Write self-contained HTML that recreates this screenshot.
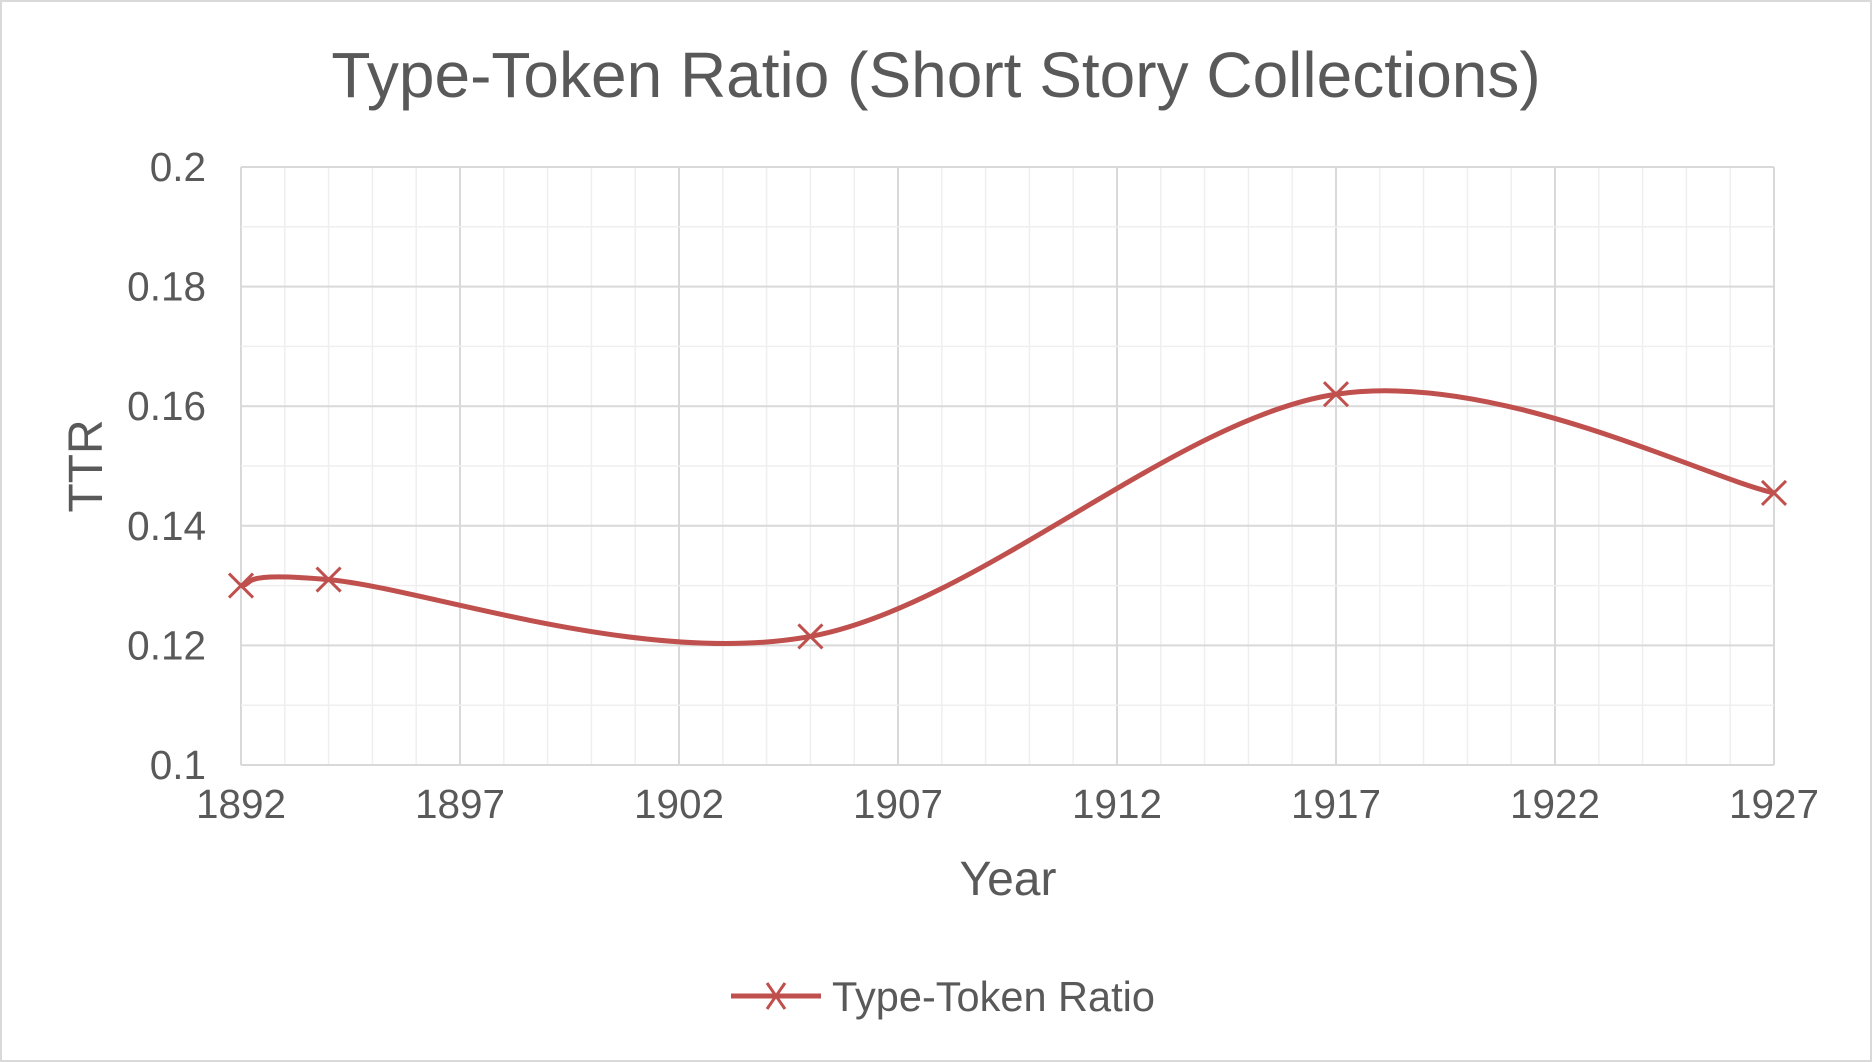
<!DOCTYPE html>
<html><head><meta charset="utf-8"><style>
html,body{margin:0;padding:0;background:#fff;}
svg{display:block;font-family:"Liberation Sans",Arial,sans-serif;}
</style></head><body>
<svg id="chart" width="1872" height="1062" viewBox="0 0 1872 1062">
<rect x="1" y="1" width="1870" height="1060" fill="#fff" stroke="#d9d9d9" stroke-width="2"/>
<text x="936" y="97" text-anchor="middle" font-size="64" fill="#595959">Type-Token Ratio (Short Story Collections)</text>
<g id="grid"></g>
<g id="axes"></g>
<path id="line" fill="none" stroke="#c0504d" stroke-width="5"/>
<g id="marks"></g>
<text x="1008" y="895" text-anchor="middle" font-size="48" fill="#595959">Year</text>
<text x="0" y="0" transform="translate(102,466) rotate(-90)" text-anchor="middle" font-size="48" fill="#595959">TTR</text>
<g>
<line x1="731" y1="996" x2="821" y2="996" stroke="#c0504d" stroke-width="5"/>
<path d="M767 983 L785 1009 M785 983 L767 1009" stroke="#c0504d" stroke-width="3"/>
<text x="832" y="1011" font-size="41.5" fill="#595959">Type-Token Ratio</text>
</g>
</svg>
<script>
const years=[1892,1894,1905,1917,1927];
const ttr=[0.130,0.131,0.1215,0.162,0.1455];
const xTicks=[1892,1897,1902,1907,1912,1917,1922,1927];
const yTicks=[0.1,0.12,0.14,0.16,0.18,0.2];
const X0=241,X1=1774,Y0=765,Y1=167,xmin=1892,xmax=1927,ymin=0.1,ymax=0.2;
const sx=v=>X0+(v-xmin)/(xmax-xmin)*(X1-X0);
const sy=v=>Y0-(v-ymin)/(ymax-ymin)*(Y0-Y1);
const NS="http://www.w3.org/2000/svg";
const grid=document.getElementById('grid'),axes=document.getElementById('axes');
function ln(p,x1,y1,x2,y2,c,w){const l=document.createElementNS(NS,'line');l.setAttribute('x1',x1);l.setAttribute('y1',y1);l.setAttribute('x2',x2);l.setAttribute('y2',y2);l.setAttribute('stroke',c);l.setAttribute('stroke-width',w);p.appendChild(l);return l;}
for(let y=xmin;y<=xmax;y++){const l=ln(grid,sx(y),Y1,sx(y),Y0,(y-xmin)%5===0?'#d9d9d9':'#efefef',(y-xmin)%5===0?2:1.5);

}
for(let k=0;k<=10;k++){const v=ymin+k*0.01;const l=ln(grid,X0,sy(v),X1,sy(v),k%2===0?'#d9d9d9':'#efefef',k%2===0?2:1.5);

}
xTicks.forEach(v=>{const t=document.createElementNS(NS,'text');t.setAttribute('x',sx(v));t.setAttribute('y',Y0+53);t.setAttribute('text-anchor','middle');t.setAttribute('font-size','40.5');t.setAttribute('fill','#595959');t.textContent=v;


axes.appendChild(t);});
yTicks.forEach(v=>{const t=document.createElementNS(NS,'text');t.setAttribute('x',X0-35);t.setAttribute('y',sy(v)+14);t.setAttribute('text-anchor','end');t.setAttribute('font-size','40.5');t.setAttribute('fill','#595959');t.textContent=String(+v.toFixed(2));


axes.appendChild(t);});
const P=years.map((y,i)=>[sx(y),sy(ttr[i])]);
let d='M'+P[0][0]+' '+P[0][1];
for(let i=0;i<P.length-1;i++){const p0=P[Math.max(0,i-1)],p1=P[i],p2=P[i+1],p3=P[Math.min(P.length-1,i+2)];
const c1=[p1[0]+(p2[0]-p0[0])/6,p1[1]+(p2[1]-p0[1])/6],c2=[p2[0]-(p3[0]-p1[0])/6,p2[1]-(p3[1]-p1[1])/6];
d+=` C${c1[0]} ${c1[1]} ${c2[0]} ${c2[1]} ${p2[0]} ${p2[1]}`;}
document.getElementById('line').setAttribute('d',d);
const marks=document.getElementById('marks');
P.forEach(p=>{const m=document.createElementNS(NS,'path');m.setAttribute('d',`M${p[0]-12} ${p[1]-12} L${p[0]+12} ${p[1]+12} M${p[0]+12} ${p[1]-12} L${p[0]-12} ${p[1]+12}`);m.setAttribute('stroke','#c0504d');m.setAttribute('stroke-width','3');


marks.appendChild(m);});
</script>
</body></html>
